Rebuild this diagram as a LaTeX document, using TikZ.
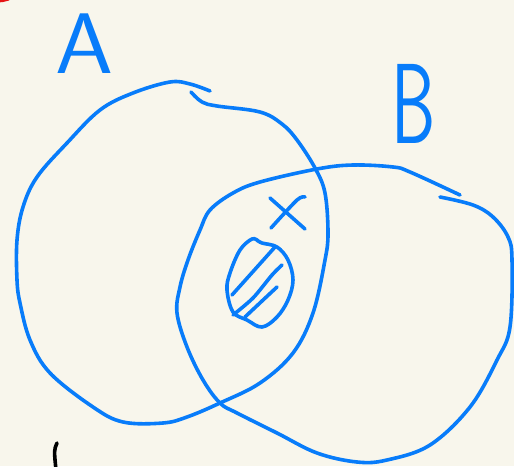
\documentclass[tikz,border=0pt]{standalone}
\usepackage{graphicx}
\definecolor{paper}{RGB}{248,246,236}
\definecolor{ink}{RGB}{8,124,250}
\definecolor{redmark}{RGB}{230,20,20}
\begin{document}
\begin{tikzpicture}[x=1pt,y=-1pt,
  pen/.style={draw=ink,line width=3.6pt,line cap=round,line join=round},
  letter/.style={text=ink,inner sep=0pt,anchor=base,font=\sffamily}]
\fill[paper] (0,0) rectangle (514,466);
\useasboundingbox (0,0) rectangle (514,466);
% red mark at top-left corner
\fill[redmark] (-2,-2) -- (11,-2) -- (9,0.5) -- (3,2) -- (-2,2.5) -- cycle;
% labels
\node[letter] (A) at (85,73) {\scalebox{1.08}[1]{\fontsize{86}{86}\selectfont A}};
\node[letter] (B) at (414,143) {\scalebox{0.62}[1]{\fontsize{114}{114}\selectfont B}};
% set A
\draw[pen] plot[smooth,tension=0.6] coordinates {(210,91) (190,84) (170,82) (133,93) (100,110) (67,143) (37,177) (23,207) (17,240) (17,280) (20,303) (30,340) (50,373) (93,407) (123,422) (163,423) (187,417) (220,403) (260,383) (293,353) (313,313) (325,260) (328,233) (325,193) (315,168) (297,140) (282,124) (260,112) (217,106) (202,102) (191,92)};
% set B
\draw[pen] plot[smooth,tension=0.6] coordinates {(460,195) (410,172) (393,167) (353,165) (317,169) (260,182) (233,193) (210,210) (200,230) (188,260) (180,287) (177,313) (187,347) (203,380) (220,403) (237,413) (277,433) (317,453) (357,462) (387,460) (430,445) (470,407) (497,360) (510,327) (512,260) (508,237) (493,217) (473,205) (440,197)};
% hatched blob
\draw[pen] plot[smooth,tension=0.6] coordinates {(257,240) (262,243) (277,247) (288,260) (293,280) (288,300) (277,317) (262,327) (247,320) (233,312) (227,290) (230,273) (240,250) (252,239) (258,241)};
\draw[pen] (232,295) -- (275,247);
\draw[pen] plot[smooth] coordinates {(233,315) (253,298) (272,275) (282,265)};
\draw[pen] plot[smooth] coordinates {(245,317) (262,301) (277,287)};
% the x
\draw[pen] (270,198) -- (305,229);
\draw[pen] plot[smooth] coordinates {(271,228) (297,200) (305,197)};
% black mark at bottom
\draw[line width=3.6pt,line cap=round] (57,443) .. controls (54,450) .. (56,470);
\end{tikzpicture}
\end{document}
